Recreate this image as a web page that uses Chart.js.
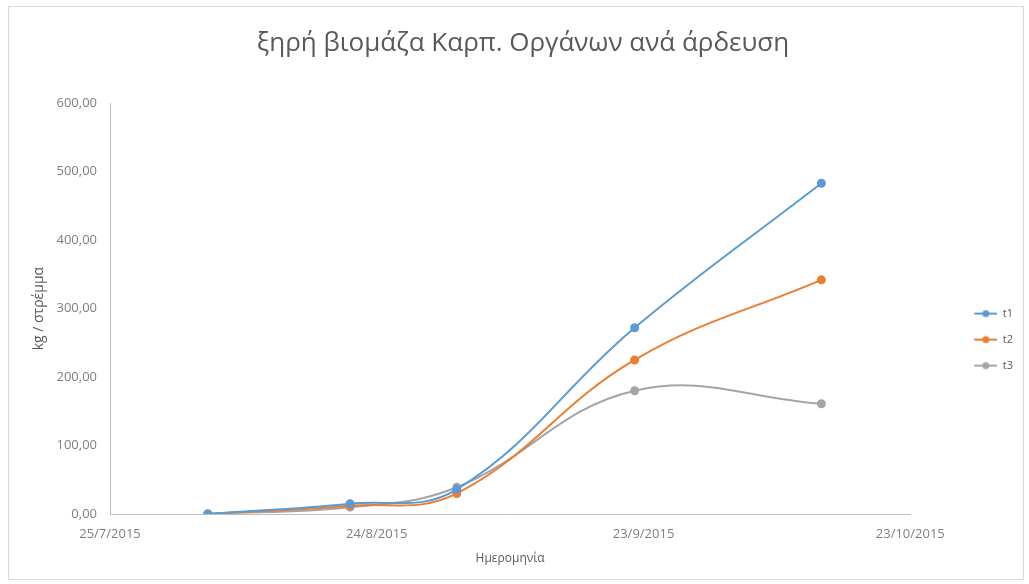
<!DOCTYPE html>
<html>
<head>
<meta charset="utf-8">
<script src="https://cdn.jsdelivr.net/npm/chart.js@4.4.1/dist/chart.umd.min.js"></script>
<style>
  html, body { margin: 0; padding: 0; background: #fff; }
  #frame { position: absolute; left: 8px; top: 6px; width: 1016px; height: 574px; border: 1px solid #d9d9d9; box-sizing: border-box; }
  #chart { display: block; }
</style>
</head>
<body>
<div id="frame"><canvas id="chart" width="1014" height="572"></canvas></div>
<script>
// sampling dates (d/m/yyyy) and biomass per irrigation level
const dates = ['5/8/2015', '21/8/2015', '2/9/2015', '22/9/2015', '13/10/2015'];
const t1 = [0, 15, 36, 272, 483];
const t2 = [0, 12, 30, 225, 342];
const t3 = [0, 10, 39, 180, 161];
const seriesNames = ['t1', 't2', 't3'];
const colors = ['#5b9bd5', '#ed7d31', '#a5a5a5'];
const xStart = '25/7/2015';
const xEnd = '23/10/2015';
const yTicks = [0, 100, 200, 300, 400, 500, 600];

function parseDate(s) {
    const [d, m, y] = s.split('/').map(Number);
    return Date.UTC(y, m - 1, d);
}
const DAY = 86400000;
const t0 = parseDate(xStart);
const toX = s => (parseDate(s) - t0) / DAY;
const fmtDate = v => {
    const d = new Date(t0 + v * DAY);
    return d.getUTCDate() + '/' + (d.getUTCMonth() + 1) + '/' + d.getUTCFullYear();
};

// legend swatch: short line with a dot, pushed to the right of a wider box
const SW_W = 72;
function swatch(color) {
    const c = document.createElement('canvas');
    c.width = SW_W; c.height = 10;
    const ctx = c.getContext('2d');
    ctx.strokeStyle = color; ctx.lineWidth = 2;
    ctx.beginPath(); ctx.moveTo(SW_W - 23, 5); ctx.lineTo(SW_W, 5); ctx.stroke();
    ctx.fillStyle = color;
    ctx.beginPath(); ctx.arc(SW_W - 11.5, 5, 3.5, 0, Math.PI * 2); ctx.fill();
    return c;
}

const values = [t1, t2, t3];
const datasets = values.map((vals, i) => ({
    label: seriesNames[i],
    data: dates.map((d, j) => ({ x: toX(d), y: vals[j] })),
    borderColor: colors[i],
    backgroundColor: colors[i],
    borderWidth: 2,
    pointRadius: 3.5,
    pointHoverRadius: 3.5,
    pointStyle: 'circle',
    tension: 0.4,
    fill: false
}));

Chart.defaults.font.family = '"Open Sans", "Noto Sans", sans-serif';
Chart.defaults.color = '#595959';

new Chart(document.getElementById('chart'), {
    type: 'line',
    data: { datasets },
    options: {
        responsive: false,
        animation: false,
        layout: { padding: { left: 14, right: 0, top: 14, bottom: 13 } },
        plugins: {
            title: {
                display: true,
                text: 'ξηρή βιομάζα Καρπ. Οργάνων ανά άρδευση',
                font: { size: 26, weight: 'normal' },
                color: '#595959',
                padding: { top: 7, bottom: 44 }
            },
            legend: {
                position: 'right',
                title: { display: true, text: ' ', font: { size: 11 }, padding: { top: 0, bottom: 79 } },
                labels: {
                    usePointStyle: true,
                    pointStyleWidth: SW_W,
                    padding: 15,
                    font: { size: 11 },
                    color: '#595959',
                    generateLabels: chart => chart.data.datasets.map((ds, i) => ({
                        text: ds.label,
                        pointStyle: swatch(colors[i]),
                        fillStyle: colors[i],
                        strokeStyle: colors[i],
                        lineWidth: 0,
                        datasetIndex: i
                    }))
                }
            },
            tooltip: { enabled: false }
        },
        scales: {
            x: {
                type: 'linear',
                min: toX(xStart),
                max: toX(xEnd),
                grid: { display: false, drawTicks: false },
                border: { display: true, color: '#bfbfbf', width: 1 },
                ticks: {
                    stepSize: 30,
                    callback: v => fmtDate(v),
                    font: { size: 13 },
                    color: '#7f7f7f',
                    maxRotation: 0,
                    padding: 12
                },
                title: { display: true, text: 'Ημερομηνία', font: { size: 12 }, color: '#595959', padding: { top: -2, bottom: 0 } }
            },
            y: {
                min: yTicks[0],
                max: yTicks[yTicks.length - 1],
                grid: { display: false, drawTicks: false },
                border: { display: true, color: '#bfbfbf', width: 1 },
                afterBuildTicks: axis => { axis.ticks = yTicks.map(v => ({ value: v })); },
                afterFit: axis => { axis.width = 87; },
                ticks: {
                    callback: v => v.toFixed(2).replace('.', ','),
                    font: { size: 13 },
                    color: '#7f7f7f',
                    padding: 13
                },
                title: { display: true, text: 'kg / στρέμμα', font: { size: 14 }, color: '#595959', padding: { top: 8, bottom: 0 } }
            }
        }
    }
});
</script>
</body>
</html>
